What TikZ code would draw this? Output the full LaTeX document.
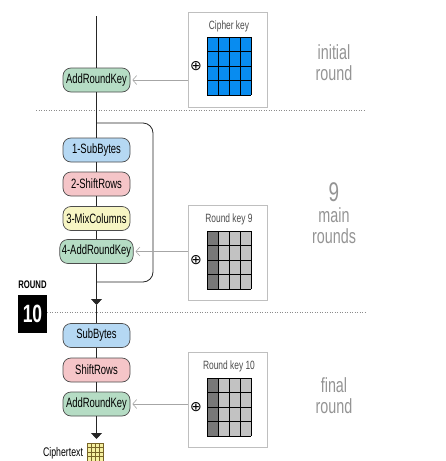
\documentclass[tikz,border=0pt]{standalone}
\usepackage{fontspec}
\setmainfont{Liberation Sans}[FakeStretch=0.7]
\newfontfamily\symbolfont{DejaVu Sans}
\usetikzlibrary{arrows.meta}

\definecolor{subblue}{RGB}{181,216,243}
\definecolor{shiftpink}{RGB}{245,197,200}
\definecolor{mixyellow}{RGB}{247,245,195}
\definecolor{addgreen}{RGB}{181,220,196}
\definecolor{cipherblue}{RGB}{8,140,240}
\definecolor{darkcell}{RGB}{120,120,120}
\definecolor{lightcell}{RGB}{194,194,194}
\definecolor{textyellow}{RGB}{245,240,160}
\definecolor{textbrown}{RGB}{120,100,40}

\begin{document}
\begin{tikzpicture}[x=1pt, y=-1pt, inner sep=2pt,
	stage/.style={draw=black!70, line width=0.7pt, rounded corners=8pt, minimum width=67pt, minimum height=24pt, font=\fontsize{13.5}{15}\selectfont},
	keybox/.style={draw=black!25, line width=0.8pt, minimum width=79pt, minimum height=95pt},
	keylabel/.style={text=black!70, font=\fontsize{12}{14}\selectfont},
	xorsign/.style={font=\symbolfont\fontsize{14}{14}\selectfont},
	roundtext/.style={text=black!42, align=center, font=\fontsize{20.5}{21}\selectfont},
	flow/.style={draw=black!85, line width=0.8pt},
	keyarrow/.style={draw=black!35, line width=0.6pt, -{Straight Barb[length=4pt,width=9pt]}, shorten >=2pt},
	sep/.style={draw=black!45, dotted, line width=0.5pt}]
	\useasboundingbox (0,0) rectangle (445,461);

	% initial round
	\coordinate (plain) at (96.5,16);
	\node[stage, fill=addgreen] (ark0) at (96.5,80) {AddRoundKey};
	\node[keybox] (key0) at (227.5,59.5) {};
	\node[keylabel] (key0label) at (229,26) {Cipher key};
	\node[xorsign] (xor0) at (196,66) {⊕};
	\node[roundtext] (initial) at (334,63) {initial\\round};

	% 9 main rounds
	\node[stage, fill=subblue] (sb1) at (96.5,150) {1-SubBytes};
	\node[stage, fill=shiftpink] (sr1) at (96.5,184) {2-ShiftRows};
	\node[stage, fill=mixyellow] (mc1) at (96.5,218.5) {3-MixColumns};
	\node[stage, fill=addgreen] (ark1) at (96.5,251.5) {4-AddRoundKey};
	\node[keybox] (key9) at (227.5,253) {};
	\node[keylabel] (key9label) at (229,219) {Round key 9};
	\node[xorsign] (xor9) at (196,260) {⊕};
	\node[roundtext] (main) at (334,213) {{\fontsize{27}{24}\selectfont 9}\\main\\rounds};
	\coordinate (loopin) at (96.5,123);
	\coordinate (loopside) at (153,200);
	\coordinate (loopout) at (96.5,282);
	\coordinate (tip9) at (96.5,305);

	% final round
	\node[font=\bfseries\fontsize{11}{11}\selectfont] (roundlabel) at (32.5,285) {ROUND};
	\node[fill=black, text=white, minimum width=29pt, minimum height=38pt, font=\bfseries\fontsize{25}{25}\selectfont] (round10) at (32.5,314) {10};
	\node[stage, fill=subblue] (sb10) at (96.5,335.5) {SubBytes};
	\node[stage, fill=shiftpink] (sr10) at (96.5,370) {ShiftRows};
	\node[stage, fill=addgreen] (ark10) at (96.5,404) {AddRoundKey};
	\node[keybox] (key10) at (227.5,399.5) {};
	\node[keylabel] (key10label) at (229,366) {Round key 10};
	\node[xorsign] (xor10) at (196,407) {⊕};
	\node[roundtext] (final) at (334,396) {final\\round};
	\coordinate (tipout) at (96.5,439);
	\node[font=\fontsize{12.5}{14}\selectfont] (ciphertext) at (63,453) {Ciphertext};
	\node[fill=textyellow, minimum width=16pt, minimum height=18pt, inner sep=0pt] (cipherout) at (95,452) {};

	% key grids
	\foreach \top/\first/\rest in {37/cipherblue/cipherblue, 231/darkcell/lightcell, 378/darkcell/lightcell} {
		\fill[\first] (207,\top) rectangle ++(11,58);
		\fill[\rest] (218,\top) rectangle ++(33,58);
		\foreach \i in {0,...,4} \draw[line width=0.6pt] (207+11*\i,\top) -- ++(0,58);
		\foreach \j in {0,...,4} \draw[line width=0.6pt] (207,\top+14.5*\j) -- ++(44,0);
	}
	\foreach \i in {0,...,4} \draw[textbrown, line width=0.5pt] (87+4*\i,443) -- ++(0,18);
	\foreach \j in {0,...,4} \draw[textbrown, line width=0.5pt] (87,443+4.5*\j) -- ++(16,0);

	% separators
	\draw[sep] (36,110) -- (365,110);
	\draw[sep] (round10.east |- 0,312) -- (365,312);

	% data path
	\draw[flow] (plain) -- (ark0);
	\draw[flow] (ark0) -- (sb1);
	\draw[flow] (sb1) -- (sr1);
	\draw[flow] (sr1) -- (mc1);
	\draw[flow] (mc1) -- (ark1);
	\draw[flow, rounded corners=10pt] (loopin) -| (loopside) |- (loopout);
	\draw[flow, -{Triangle[width=11pt,length=6pt]}] (ark1) -- (tip9);
	\draw[flow] (tip9) -- (sb10);
	\draw[flow] (sb10) -- (sr10);
	\draw[flow] (sr10) -- (ark10);
	\draw[flow, -{Triangle[width=11pt,length=6pt]}] (ark10) -- (tipout);

	% round keys
	\draw[keyarrow] (key0.west |- ark0) -- (ark0.east);
	\draw[keyarrow] (key9.west |- ark1) -- (ark1.east);
	\draw[keyarrow] (key10.west |- ark10) -- (ark10.east);
\end{tikzpicture}
\end{document}
